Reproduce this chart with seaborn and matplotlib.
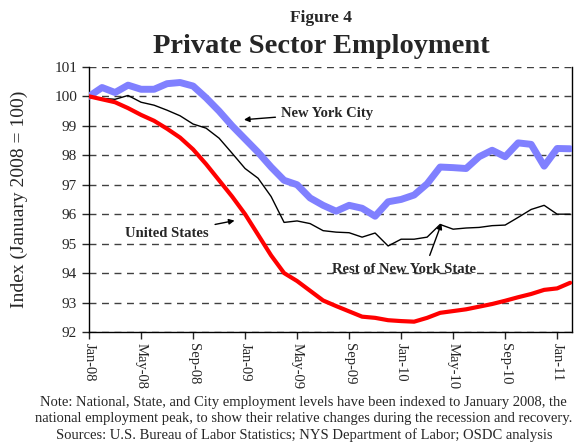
import numpy as np
import pandas as pd
import matplotlib
matplotlib.use("Agg")
import matplotlib.pyplot as plt
import seaborn as sns

# monthly index values, Jan-2008 = 100
months = pd.date_range("2008-01-01", "2011-02-01", freq="MS")

nyc = [100.0, 100.3, 100.13, 100.38, 100.24, 100.24, 100.43, 100.47, 100.35,
       99.95, 99.5, 99.0, 98.55, 98.1, 97.6, 97.15, 97.0, 96.55, 96.3, 96.1,
       96.3, 96.2, 95.93, 96.42, 96.5, 96.65, 97.03, 97.6, 97.58, 97.55,
       97.95, 98.17, 97.95, 98.42, 98.37, 97.63, 98.23, 98.22]

us = [100.0, 99.9, 99.8, 99.6, 99.37, 99.17, 98.9, 98.6, 98.2, 97.7, 97.15,
      96.6, 96.0, 95.3, 94.6, 94.0, 93.73, 93.4, 93.07, 92.88, 92.7, 92.52,
      92.48, 92.4, 92.37, 92.35, 92.48, 92.65, 92.71, 92.77, 92.86, 92.95,
      93.06, 93.18, 93.29, 93.43, 93.48, 93.67]

rest_nys = [100.0, 99.93, 99.9, 100.03, 99.8, 99.7, 99.53, 99.34, 99.06,
            98.92, 98.58, 98.07, 97.55, 97.22, 96.6, 95.72, 95.77, 95.68,
            95.44, 95.39, 95.37, 95.22, 95.36, 94.92, 95.15, 95.15, 95.22,
            95.65, 95.49, 95.53, 95.55, 95.61, 95.63, 95.89, 96.16, 96.3,
            96.0, 96.0]

tick_labels = [d.strftime("%b-%y") for d in months[::4]]

df = pd.DataFrame({"m": np.arange(len(months)), "nyc": nyc, "us": us, "rest": rest_nys})

sns.set_style("white")
plt.rcParams["font.family"] = ["Liberation Serif", "DejaVu Serif"]

fig = plt.figure(figsize=(5.82, 4.43), dpi=100)
ax = fig.add_axes([0.153, 0.2506, 0.830, 0.5984])

for y in range(92, 102):
    ax.axhline(y, color="#404040", lw=1, ls=(0, (5, 4)), zorder=0)

sns.lineplot(data=df, x="m", y="nyc", ax=ax, color="#8080FF", lw=5, zorder=3)
sns.lineplot(data=df, x="m", y="rest", ax=ax, color="black", lw=1, zorder=4)
sns.lineplot(data=df, x="m", y="us", ax=ax, color="#FF0000", lw=3, zorder=5)

ax.set_xlim(0, len(months) - 0.85)
ax.set_ylim(92, 101)
ax.set_yticks(range(92, 102))
ax.set_xticks(df["m"][::4])
ax.set_xticklabels(tick_labels, rotation=270, fontsize=10.5)
ax.tick_params(axis="y", labelsize=11, direction="out", length=5, width=1, left=True)
ax.tick_params(axis="x", direction="out", length=5, width=1, bottom=True, pad=3)
ax.set_xlabel("")
ax.set_ylabel("Index (January 2008 = 100)", fontsize=14, labelpad=19)

ax.spines["top"].set_visible(False)
for s in ["left", "bottom", "right"]:
    ax.spines[s].set_color("black")
    ax.spines[s].set_linewidth(1)

bold = dict(fontsize=10.5, fontweight="bold")
ax.annotate("New York City", xy=(11.7, 99.2), xytext=(14.8, 99.43),
            va="center", ha="left",
            arrowprops=dict(arrowstyle="-|>", color="black", lw=1, mutation_scale=8), **bold)
ax.annotate("United States", xy=(11.4, 95.8), xytext=(2.8, 95.33),
            va="center", ha="left",
            arrowprops=dict(arrowstyle="-|>", color="black", lw=1, mutation_scale=8,
                            shrinkA=2), **bold)
ax.annotate("Rest of New York State", xy=(27.1, 95.7), xytext=(18.7, 94.12),
            va="center", ha="left", **bold)
ax.annotate("", xy=(27.1, 95.68), xytext=(26.2, 94.6),
            arrowprops=dict(arrowstyle="-|>", color="black", lw=1, mutation_scale=8,
                            shrinkA=0, shrinkB=0))

fig.text(0.552, 0.960, "Figure 4", ha="center", va="center", fontsize=12.5, fontweight="bold")
fig.text(0.552, 0.894, "Private Sector Employment", ha="center", va="center",
         fontsize=20.5, fontweight="bold")

notes = ("Note: National, State, and City employment levels have been indexed to January 2008, the\n"
         "national employment peak, to show their relative changes during the recession and recovery.\n"
         "Sources: U.S. Bureau of Labor Statistics; NYS Department of Labor; OSDC analysis")
fig.text(0.522, 0.054, notes, ha="center", va="center", fontsize=10.5, linespacing=1.32)

fig.savefig("out.png", dpi=100)
